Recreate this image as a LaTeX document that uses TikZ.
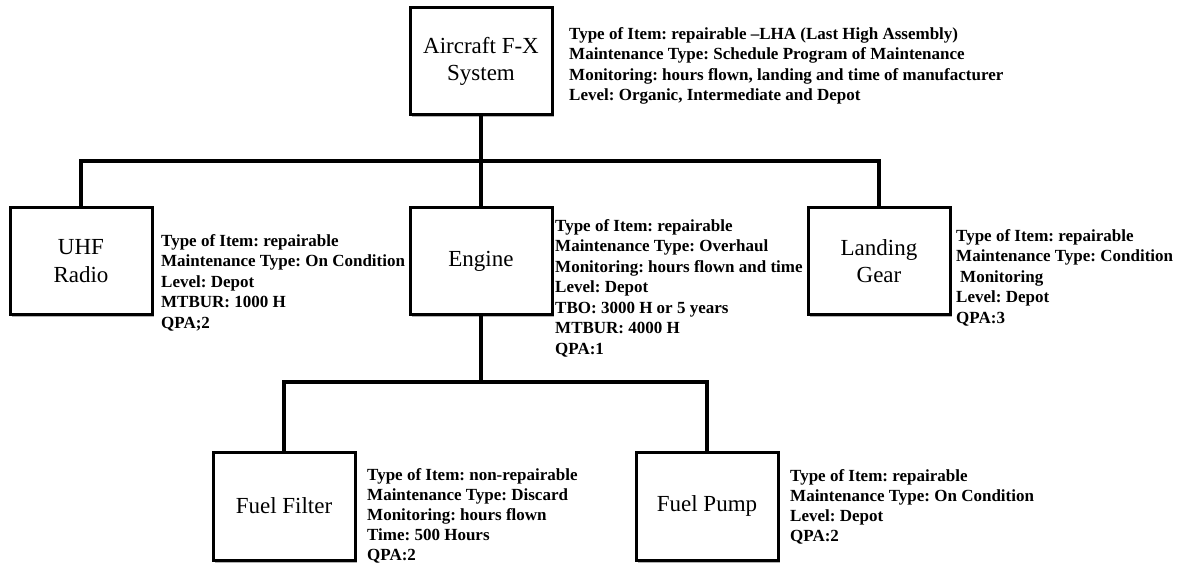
\documentclass[tikz,border=0pt]{standalone}
\usepackage{fontspec}
\setmainfont{Liberation Serif}
\usetikzlibrary{shadows}
\frenchspacing
\tikzset{
  boxnode/.style={draw=black, line width=3pt, fill=white, minimum width=142pt, minimum height=106pt,
    inner sep=0pt, align=center, font=\fontsize{23}{27.5}\selectfont,
    drop shadow={shadow xshift=1.5pt, shadow yshift=-2.5pt, opacity=0.3, fill=black}},
  infonode/.style={anchor=north west, inner sep=0pt, align=left,
    font=\fontsize{17}{20.5}\selectfont\bfseries\frenchspacing},
  conn/.style={line width=3.2pt, black, line join=miter}
}
\begin{document}
\begin{tikzpicture}[x=1pt,y=-1pt]
\useasboundingbox (0,0) rectangle (1181,564);
\fill[white] (0,0) rectangle (1181,564);

\coordinate (bus1) at (0,161);
\coordinate (bus2) at (0,382);

\node[boxnode, minimum height=107pt] (top) at (481,61.5) {Aircraft F-X\\System};
\node[boxnode] (uhf) at (81,261) {UHF\\Radio};
\node[boxnode] (engine) at (481,261) {Engine};
\node[boxnode] (gear) at (879,261) {Landing\\Gear};
\node[boxnode, minimum height=108pt] (filter) at (284,506) {Fuel Filter};
\node[boxnode, minimum height=108pt] (pump) at (707,506) {Fuel Pump};

\draw[conn] (top.south) -- (top.south |- bus1);
\draw[conn] (uhf.north) -- (uhf.north |- bus1) -- (gear.north |- bus1) -- (gear.north);
\draw[conn] (engine.north) -- (engine.north |- bus1);
\draw[conn] (engine.south) -- (engine.south |- bus2);
\draw[conn] (filter.north) -- (filter.north |- bus2) -- (pump.north |- bus2) -- (pump.north);

\node[infonode] (toptxt) at (569,27) {Type of Item: repairable --LHA (Last High Assembly)\\
Maintenance Type: Schedule Program of Maintenance\\
Monitoring: hours flown, landing and time of manufacturer\\
Level: Organic, Intermediate and Depot};

\node[infonode] (uhftxt) at (161,234) {Type of Item: repairable\\
Maintenance Type: On Condition\\
Level: Depot\\
MTBUR: 1000 H\\
QPA;2};

\node[infonode] (enginetxt) at (555,219) {Type of Item: repairable\\
Maintenance Type: Overhaul\\
Monitoring: hours flown and time\\
Level: Depot\\
TBO: 3000 H or 5 years\\
MTBUR: 4000 H\\
QPA:1};

\node[infonode] (geartxt) at (956,229) {Type of Item: repairable\\
Maintenance Type: Condition\\
\hspace*{4pt}Monitoring\\
Level: Depot\\
QPA:3};

\node[infonode, font=\fontsize{17}{20}\selectfont\bfseries\frenchspacing] (filtertxt) at (367,468) {Type of Item: non-repairable\\
Maintenance Type: Discard\\
Monitoring: hours flown\\
Time: 500 Hours\\
QPA:2};

\node[infonode, font=\fontsize{17}{20}\selectfont\bfseries\frenchspacing] (pumptxt) at (790,469) {Type of Item: repairable\\
Maintenance Type: On Condition\\
Level: Depot\\
QPA:2};
\end{tikzpicture}
\end{document}
